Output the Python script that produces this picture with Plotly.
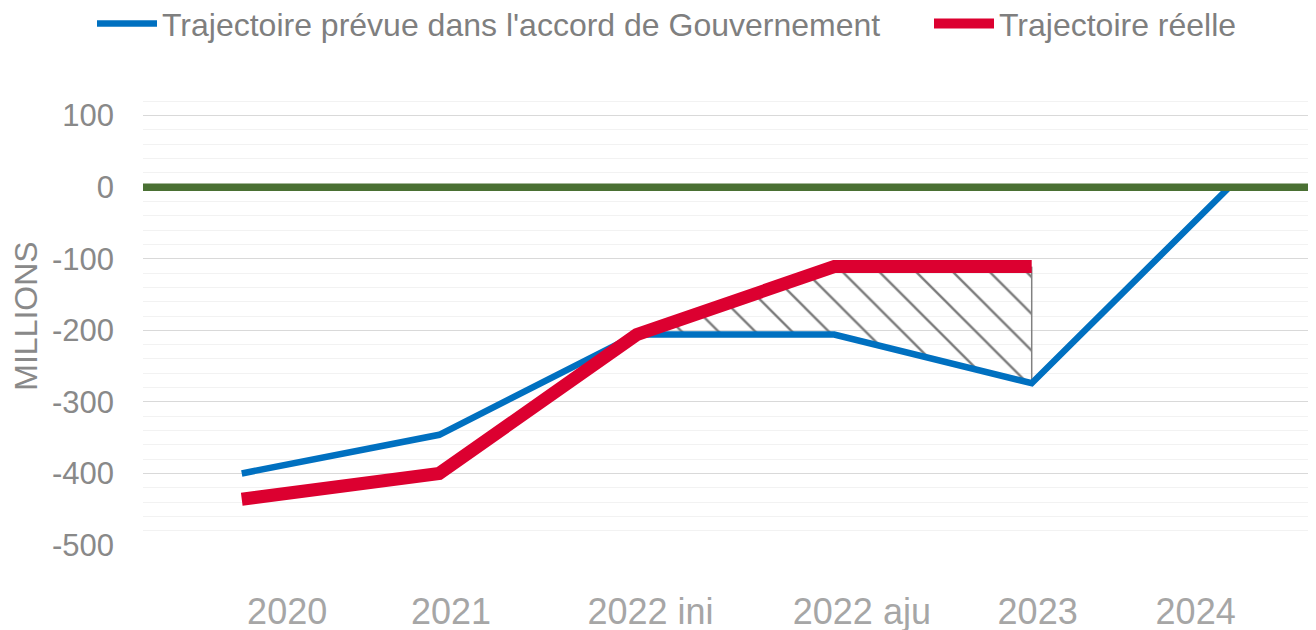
import plotly.graph_objects as go

categories = ["2020", "2021", "2022 ini", "2022 aju", "2023", "2024"]
prevue = [-400, -346, -206, -206, -274, 0]
reelle = [-436, -400, -206, -111, -111]
label_pos = [0.23, 1.06, 2.07, 3.14, 4.03, 4.83]
y_ticks = [-500, -400, -300, -200, -100, 0, 100]
y_ticktext = ["-500", "-400", "-300", "-200", "-100", "0", "100"]

x_idx = list(range(len(categories)))
FONT = "Liberation Sans, Arial, sans-serif"

fig = go.Figure()

# hatched area between the two trajectories (2022 ini -> 2023)
hx = x_idx[2:5] + x_idx[2:5][::-1]
hy = reelle[2:5] + prevue[2:5][::-1]
fig.add_trace(go.Scatter(
    x=hx, y=hy, mode="lines", fill="toself",
    fillcolor="rgba(128,128,128,0)", line=dict(width=0),
    fillpattern=dict(shape="\\", size=26, solidity=0.09, fgcolor="#7A7A7A", fgopacity=1,
                     bgcolor="rgba(0,0,0,0)"),
    showlegend=False, hoverinfo="skip"))
fig.add_trace(go.Scatter(
    x=[x_idx[4], x_idx[4]], y=[reelle[4], prevue[4]], mode="lines",
    line=dict(color="#808080", width=1.5), showlegend=False, hoverinfo="skip"))

fig.add_trace(go.Scatter(
    x=x_idx, y=prevue, mode="lines", name="Trajectoire prévue dans l'accord de Gouvernement",
    line=dict(color="#0070C0", width=6.5), legend="legend"))
fig.add_trace(go.Scatter(
    x=x_idx[:len(reelle)], y=reelle, mode="lines", name="Trajectoire réelle",
    line=dict(color="#DC0030", width=13), legend="legend2"))

fig.add_hline(y=0, line=dict(color="#4A7033", width=7.5))

legend_common = dict(orientation="h", xref="container", yref="container",
                     y=0.975, xanchor="left", yanchor="middle", itemwidth=60,
                     font=dict(size=32, color="#7F7F7F", family=FONT),
                     bgcolor="rgba(0,0,0,0)", borderwidth=0)
fig.update_layout(
    width=1316, height=630,
    margin=dict(l=135, r=0, t=79, b=93, autoexpand=False),
    paper_bgcolor="white", plot_bgcolor="white",
    font=dict(family=FONT, color="#898989"),
    legend=dict(x=84 / 1316, **legend_common),
    legend2=dict(x=921 / 1316, **legend_common),
    showlegend=True,
)
fig.update_xaxes(
    range=[-0.5, 5.48], tickmode="array", tickvals=label_pos, ticktext=categories,
    showgrid=False, zeroline=False, showline=False,
    tickfont=dict(size=36, color="#A6A6A6"), ticks="", ticklabelstandoff=42)
fig.update_yaxes(
    range=[-500, 140], tickmode="array", tickvals=y_ticks, ticktext=y_ticktext,
    showgrid=True, gridcolor="#D9D9D9", gridwidth=1, zeroline=False, showline=False,
    minor=dict(dtick=20, tick0=0, showgrid=True, gridcolor="#F2F2F2", gridwidth=1),
    tickfont=dict(size=31, color="#898989"), ticklabelstandoff=28,
    title=dict(text="MILLIONS", font=dict(size=32, color="#898989"), standoff=8))

fig.write_html("out.html")
